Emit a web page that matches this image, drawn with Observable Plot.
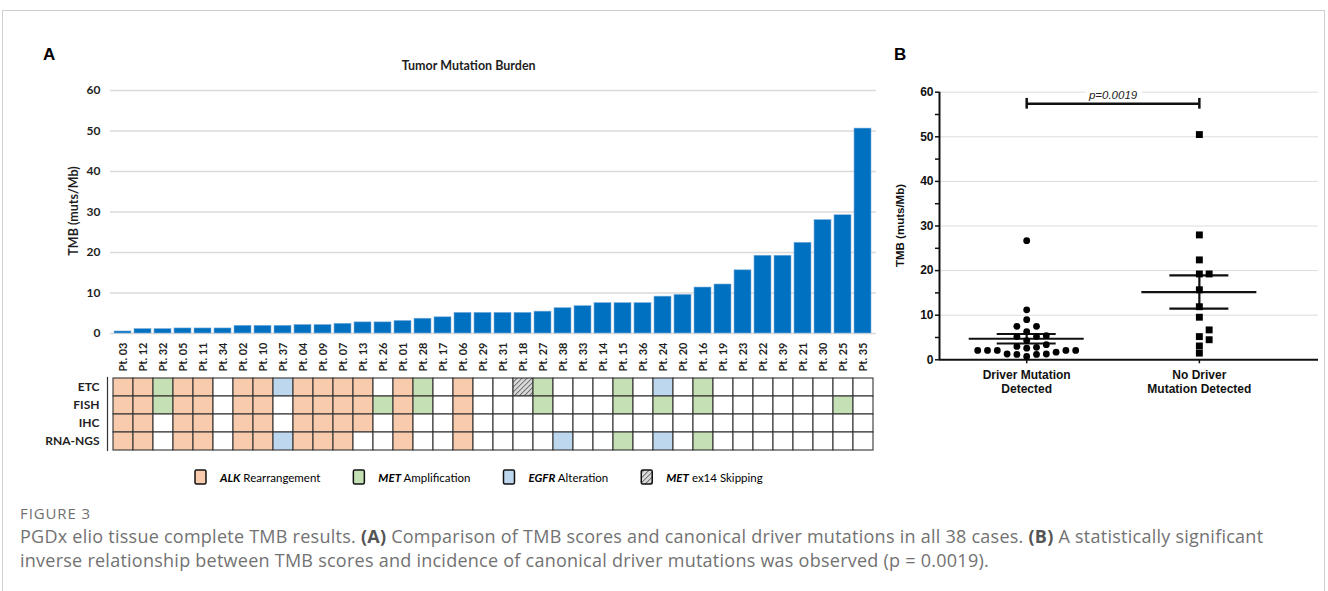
<!DOCTYPE html>
<html>
<head>
<meta charset="utf-8">
<script src="https://cdn.jsdelivr.net/npm/d3@7"></script>
<script src="https://cdn.jsdelivr.net/npm/@observablehq/plot@0.6"></script>
<style>
html,body{margin:0;padding:0;background:#fff;}
body{width:1328px;height:591px;position:relative;overflow:hidden;}
#frame{position:absolute;left:2px;top:10px;width:1323px;height:640px;border:1px solid #cfcfcf;box-sizing:border-box;}
.abs{position:absolute;}
#overlay{position:absolute;left:0;top:0;pointer-events:none;}
</style>
</head>
<body>
<div id="frame"></div>
<div id="barsA" class="abs" style="left:0;top:0;"></div>
<div id="gridA" class="abs" style="left:0;top:370px;"></div>
<div id="panelB" class="abs" style="left:880px;top:60px;"></div>
<svg id="overlay" width="1328" height="591"></svg>
<script>
// ---------------- Panel A data ----------------
const patients = ["Pt. 03","Pt. 12","Pt. 32","Pt. 05","Pt. 11","Pt. 34","Pt. 02","Pt. 10","Pt. 37","Pt. 04",
  "Pt. 09","Pt. 07","Pt. 13","Pt. 26","Pt. 01","Pt. 28","Pt. 17","Pt. 06","Pt. 29","Pt. 31",
  "Pt. 18","Pt. 27","Pt. 38","Pt. 33","Pt. 14","Pt. 15","Pt. 36","Pt. 24","Pt. 20","Pt. 16",
  "Pt. 19","Pt. 23","Pt. 22","Pt. 39","Pt. 21","Pt. 30","Pt. 25","Pt. 35"];
const tmb = [0.5,1.1,1.1,1.25,1.25,1.25,1.9,1.9,1.9,2.1,
  2.1,2.4,2.75,2.75,3.1,3.65,4.0,5.1,5.1,5.1,
  5.1,5.4,6.25,6.75,7.5,7.5,7.5,9.1,9.55,11.35,
  12.1,15.6,19.2,19.2,22.4,28.0,29.2,50.6];
const yTicksA = [0,10,20,30,40,50,60];
const testRows = ["ETC","FISH","IHC","RNA-NGS"];
// A = ALK rearrangement, M = MET amplification, E = EGFR alteration, S = MET ex14 skipping
const etcCalls  = ["A","A","M","A","A","","A","A","E","A", "A","A","A","","A","M","","A","","", "S","M","","","","M","","E","","M", "","","","","","","",""];
const fishCalls = ["A","A","M","A","A","","A","A","","A", "A","A","A","M","A","M","","A","","", "","M","","","","M","","M","","M", "","","","","","","M",""];
const ihcCalls  = ["A","A","","A","A","","A","A","","A", "A","A","A","","A","","","A","","", "","","","","","","","","","", "","","","","","","",""];
const rnaCalls  = ["A","A","","A","A","","A","A","E","A", "A","A","","","A","","","A","","", "","","E","","","M","","E","","M", "","","","","","","",""];
const alterationKeys = ["A","M","E","S"];
const alterationGenes = ["ALK","MET","EGFR","MET"];
const alterationNames = [" Rearrangement"," Amplification"," Alteration"," ex14 Skipping"];
const alterationFills = ["#F8CBAD","#C5E0B4","#BDD7EE","url(#hatch)"];
const titleA = "Tumor Mutation Burden";
const yTitle = "TMB (muts/Mb)";

// ---------------- Panel B data ----------------
const groupLabels = ["Driver Mutation\nDetected","No Driver\nMutation Detected"];
const driverTMB = [26.7,11.2,9.0,7.5,7.5,6.3,5.4,5.2,5.2,4.3,3.4,3.0,2.8,2.6,2.1,2.1,2.1,2.1,2.1,1.7,1.3,1.3,1.2,1.2,0.75];
const noDriverTMB = [50.5,28.0,22.4,19.25,19.25,15.7,11.9,9.55,6.7,5.2,4.5,3.1,1.5];
const pValueText = "p=0.0019";
const bracketLevel = 57.4;
const pTextLevel = 59.4;

const captionHead = "FIGURE 3";
const captionLines = [
  [["PGDx elio tissue complete TMB results. ",false],["(A)",true],[" Comparison of TMB scores and canonical driver mutations in all 38 cases. ",false],["(B)",true],[" A statistically significant",false]],
  [["inverse relationship between TMB scores and incidence of canonical driver mutations was observed (p = 0.0019).",false]]
];

// ---------------- Panel A: bars ----------------
const fontA = "Lato, 'Open Sans', sans-serif";
const barData = patients.map((p,i)=>({patient:p, tmb:tmb[i]}));
const bars = Plot.plot({
  width: 890, height: 380,
  marginLeft: 110, marginRight: 14, marginTop: 90, marginBottom: 47,
  style: {background:"transparent", fontFamily: fontA, color:"#1f1f1f"},
  x: {domain: patients, padding: 0.14},
  y: {domain: [0,60]},
  marks: [
    Plot.gridY(yTicksA, {stroke:"#dadada", strokeOpacity:1, strokeWidth:1.5}),
    Plot.barY(barData, {x:"patient", y:"tmb", fill:"#0070C0", stroke:"#7fb0dd", strokeWidth:0.6}),
    Plot.axisX({tickRotate:-90, tickSize:0, tickPadding:9, fontSize:11, fontWeight:"bold", label:null}),
    Plot.axisY({ticks: yTicksA, tickSize:0, tickPadding:10, fontSize:12, fontWeight:"bold", label:null})
  ]
});
document.getElementById("barsA").appendChild(bars);

// ---------------- Panel A: test grid ----------------
const callRows = [etcCalls, fishCalls, ihcCalls, rnaCalls];
const cellData = [];
testRows.forEach((row, r) => callRows[r].forEach((c, i) => cellData.push({patient: patients[i], test: row, call: c})));
const fillFor = c => c ? alterationFills[alterationKeys.indexOf(c)] : "#ffffff";
const grid = Plot.plot({
  width: 890, height: 90,
  marginLeft: 110, marginRight: 14, marginTop: 7, marginBottom: 10,
  style: {background:"transparent", fontFamily: fontA, color:"#1f1f1f"},
  x: {domain: patients, padding: 0, axis: null},
  y: {domain: testRows, padding: 0},
  color: {type: "identity"},
  marks: [
    Plot.cell(cellData, {x:"patient", y:"test", fill: d => fillFor(d.call), stroke:"#333", strokeWidth:1.1}),
    Plot.frame({anchor:"left", dx:-3, stroke:"#333", strokeWidth:1.2}),
    Plot.axisY({tickSize:0, tickPadding:11, fontSize:12, fontWeight:"bold", label:null})
  ]
});
document.getElementById("gridA").appendChild(grid);

// ---------------- Panel B ----------------
const bW = 446, bH = 340, bML = 59, bMR = 8, bMT = 31.7, bMB = 40.7;
const xDomainB = [-0.505, 1.69];
const pxPerUnitX = (bW - bML - bMR) / (xDomainB[1] - xDomainB[0]);
const pxPerUnitY = (bH - bMT - bMB) / 60;
const slotPx = 9.8, minGapPx = 7;
function swarm(values, g) {
  const placed = [];
  const idx = d3.range(values.length).sort((a,b) => values[a] - values[b]);
  return idx.map(i => {
    const v = values[i];
    for (let k = 0; ; k++) {
      const slot = k === 0 ? 0 : (k % 2 ? (k + 1) / 2 : -k / 2);
      const clash = placed.some(p => p.slot === slot && Math.abs(p.v - v) * pxPerUnitY < minGapPx);
      if (!clash) { placed.push({slot, v}); return {g, v, x: g + slot * slotPx / pxPerUnitX}; }
    }
  });
}
const ptsDriver = swarm(driverTMB, 0);
const ptsNoDriver = swarm(noDriverTMB, 1);
const stats = [driverTMB, noDriverTMB].map((vals, g) => {
  const m = d3.mean(vals), se = d3.deviation(vals) / Math.sqrt(vals.length);
  return {g, mean: m, lo: m - se, hi: m + se};
});
const meanHalf = 57.5 / pxPerUnitX, semHalf = 29.5 / pxPerUnitX;
const semLines = stats.flatMap(s => [{g: s.g, y: s.lo}, {g: s.g, y: s.hi}]);
const fontB = "'Liberation Sans', Arial, sans-serif";
const panelB = Plot.plot({
  width: bW, height: bH, marginLeft: bML, marginRight: bMR, marginTop: bMT, marginBottom: bMB,
  style: {background:"transparent", fontFamily: fontB, color:"#111"},
  x: {domain: xDomainB},
  y: {domain: [0,60]},
  marks: [
    Plot.gridY(d3.range(10, 61, 10), {stroke:"#dcdcdc", strokeOpacity:1, strokeWidth:1}),
    Plot.text([pValueText], {x: 0.5, y: pTextLevel, text: d => d, fontStyle:"italic", fontSize:11.5, fill:"#222", stroke:"white", strokeWidth:10}),
    Plot.ruleY([bracketLevel], {x1: 0, x2: 1, stroke:"#111", strokeWidth:2.5}),
    Plot.ruleX([0, 1], {y1: bracketLevel - 1.2, y2: bracketLevel + 1.2, stroke:"#111", strokeWidth:2.5}),
    Plot.axisY({ticks: d3.range(0, 61, 5), tickSize:4, tickPadding:2, tickFormat: d => d % 10 === 0 ? d : "", fontSize:12, fontWeight:"bold", strokeWidth:1.5, label:null}),
    Plot.axisX({ticks: [0, 1], tickSize:4, tickPadding:5, tickFormat: i => groupLabels[i], fontSize:12, fontWeight:"bold", lineHeight:1.17, strokeWidth:1.5, label:null}),
    Plot.ruleX([xDomainB[0]], {y1: 0, y2: 60, stroke:"#111", strokeWidth:2}),
    Plot.ruleY([0], {stroke:"#111", strokeWidth:2}),
    Plot.ruleY(stats, {y: "mean", x1: d => d.g - meanHalf, x2: d => d.g + meanHalf, stroke:"#111", strokeWidth:2.2}),
    Plot.ruleY(semLines, {y: "y", x1: d => d.g - semHalf, x2: d => d.g + semHalf, stroke:"#111", strokeWidth:2.2}),
    Plot.ruleX(stats, {x: "g", y1: "lo", y2: "hi", stroke:"#111", strokeWidth:2.2}),
    Plot.dot(ptsDriver, {x: "x", y: "v", r: 3.4, fill: "#000", symbol: "circle"}),
    Plot.dot(ptsNoDriver, {x: "x", y: "v", r: 3.9, fill: "#000", symbol: "square"})
  ]
});
document.getElementById("panelB").appendChild(panelB);

// ---------------- Overlay texts, legend, caption ----------------
const ov = d3.select("#overlay");
ov.append("defs").html(
  '<pattern id="hatch" width="3.5" height="3.5" patternUnits="userSpaceOnUse" patternTransform="rotate(45)">' +
  '<rect width="3.5" height="3.5" fill="#d9d9d9"/><line x1="0" y1="0" x2="0" y2="3.5" stroke="#4a4a4a" stroke-width="1.4"/></pattern>');

ov.append("text").attr("x", 43).attr("y", 59.5).attr("font-family", fontB).attr("font-weight", "bold").attr("font-size", "17px").attr("fill", "#000").text("A");
ov.append("text").attr("x", 894).attr("y", 59.5).attr("font-family", fontB).attr("font-weight", "bold").attr("font-size", "17px").attr("fill", "#000").text("B");
ov.append("text").attr("x", 468.7).attr("y", 69.5).attr("text-anchor", "middle").attr("font-family", fontA).attr("font-weight", "bold").attr("font-size", "12.5px").attr("fill", "#1f1f1f").text(titleA);
ov.append("text").attr("transform", "translate(73,211) rotate(-90)").attr("text-anchor", "middle").attr("dominant-baseline", "central")
  .attr("font-family", fontA).attr("font-weight", "bold").attr("font-size", "12.5px").attr("fill", "#1f1f1f").text(yTitle);
ov.append("text").attr("transform", "translate(900,225.5) rotate(-90)").attr("text-anchor", "middle").attr("dominant-baseline", "central")
  .attr("font-family", fontB).attr("font-weight", "bold").attr("font-size", "11.5px").attr("fill", "#111").text(yTitle);

// legend
let lx = 195;
alterationKeys.forEach((k, i) => {
  const g = ov.append("g");
  g.append("rect").attr("x", lx).attr("y", 470).attr("width", 11).attr("height", 14).attr("rx", 1.5)
    .attr("fill", alterationFills[i]).attr("stroke", "#111").attr("stroke-width", 1.5);
  const t = g.append("text").attr("x", lx + 25).attr("y", 481.5).attr("font-family", fontA).attr("font-size", "11.5px").attr("fill", "#000");
  t.append("tspan").attr("font-style", "italic").attr("font-weight", "bold").text(alterationGenes[i]);
  t.append("tspan").text(alterationNames[i]);
  lx += 25 + t.node().getComputedTextLength() + 33;
});

// caption
const capFont = "'Open Sans', sans-serif";
ov.append("text").attr("x", 20).attr("y", 519).attr("font-family", capFont).attr("font-size", "15px").attr("font-weight", 400)
  .attr("letter-spacing", 0.9).attr("fill", "#6f6f6f").text(captionHead);
captionLines.forEach((parts, li) => {
  const t = ov.append("text").attr("x", 20).attr("y", 543 + li * 24).attr("font-family", capFont).attr("font-size", "18px")
    .attr("letter-spacing", 0.25).attr("fill", "#727272");
  parts.forEach(([s, b]) => { const sp = t.append("tspan").text(s); if (b) sp.attr("font-weight", "bold").attr("fill", "#555"); });
});
</script>
</body>
</html>
